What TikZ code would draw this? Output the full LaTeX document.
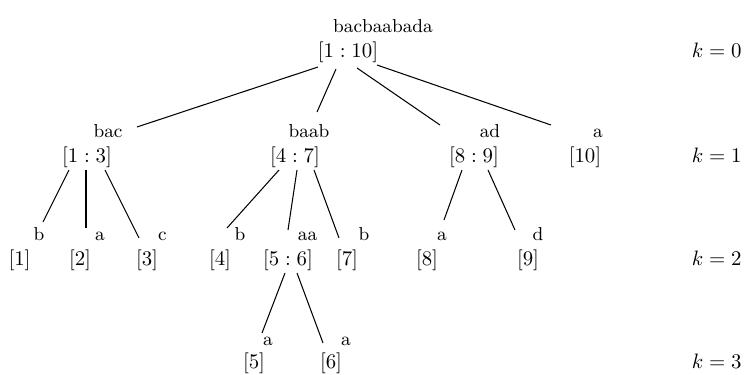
\documentclass[tikz,border=0pt]{standalone}
\usetikzlibrary{calc}
\begin{document}
\begin{tikzpicture}[x=0.48pt,y=-0.48pt,
  rng/.style={anchor=base,inner sep=0pt},
  lab/.style={anchor=base,inner sep=0pt,font=\small},
  lvl/.style={anchor=base east,inner sep=0pt},
  edge/.style={draw,line width=0.5pt}]
\useasboundingbox[fill=white] (0,0) rectangle (745,374);
% level 0
\node[rng] (n0) at (348,57) {$[1:10]$};
\node[lab] (l0) at (383,32) {bacbaabada};
% level 1
\node[rng] (n1) at (87,162) {$[1:3]$};
\node[lab] (l1) at (108,137) {bac};
\node[rng] (n2) at (295,162) {$[4:7]$};
\node[lab] (l2) at (309,137) {baab};
\node[rng] (n3) at (474,162) {$[8:9]$};
\node[lab] (l3) at (490,137) {ad};
\node[rng] (n4) at (585,162) {$[10]$};
\node[lab] (l4) at (598,137) {a};
% level 2
\node[rng] (n11) at (19.5,265) {$[1]$};
\node[lab] (l11) at (39,240) {b};
\node[rng] (n12) at (80,265) {$[2]$};
\node[lab] (l12) at (100,240) {a};
\node[rng] (n13) at (147,265) {$[3]$};
\node[lab] (l13) at (162.5,240) {c};
\node[rng] (n21) at (220,265) {$[4]$};
\node[lab] (l21) at (240,240) {b};
\node[rng] (n22) at (288,265) {$[5:6]$};
\node[lab] (l22) at (307.5,240) {aa};
\node[rng] (n23) at (347,265) {$[7]$};
\node[lab] (l23) at (364,240) {b};
\node[rng] (n31) at (427,265) {$[8]$};
\node[lab] (l31) at (442,240) {a};
\node[rng] (n32) at (528,265) {$[9]$};
\node[lab] (l32) at (538,240) {d};
% level 3
\node[rng] (n221) at (254,368) {$[5]$};
\node[lab] (l221) at (268,345) {a};
\node[rng] (n222) at (331,368) {$[6]$};
\node[lab] (l222) at (346,345) {a};
% level markers
\node[lvl] (k0) at (742,57) {$k=0$};
\node[lvl] (k1) at (742,162) {$k=1$};
\node[lvl] (k2) at (742,265) {$k=2$};
\node[lvl] (k3) at (742,368) {$k=3$};
% edges
\draw[edge] ($(n0.base)+(-30,10)$) -- ($(n1.base)+(50,-35)$);
\draw[edge] ($(n0.base)+(-12,12)$) -- ($(n2.base)+(22,-50)$);
\draw[edge] ($(n0.base)+(9,11)$) -- ($(n3.base)+(-34,-37)$);
\draw[edge] ($(n0.base)+(29,8)$) -- ($(n4.base)+(-34,-37)$);
\draw[edge] ($(n1.base)+(-18,8)$) -- ($(n11.base)+(23.5,-43)$);
\draw[edge] ($(n1.base)+(-1,8)$) -- ($(n12.base)+(6,-37)$);
\draw[edge] ($(n1.base)+(18,8)$) -- ($(n13.base)+(-8,-27)$);
\draw[edge] ($(n2.base)+(-16,8)$) -- ($(n21.base)+(7,-37)$);
\draw[edge] ($(n2.base)+(2,8)$) -- ($(n22.base)+(0,-35)$);
\draw[edge] ($(n2.base)+(19,8)$) -- ($(n23.base)+(-8,-27)$);
\draw[edge] ($(n3.base)+(-12,8)$) -- ($(n31.base)+(17,-45)$);
\draw[edge] ($(n3.base)+(14,8)$) -- ($(n32.base)+(-13,-35)$);
\draw[edge] ($(n22.base)+(-3,8)$) -- ($(n221.base)+(8,-35)$);
\draw[edge] ($(n22.base)+(9,8)$) -- ($(n222.base)+(-8,-25)$);
\end{tikzpicture}
\end{document}
